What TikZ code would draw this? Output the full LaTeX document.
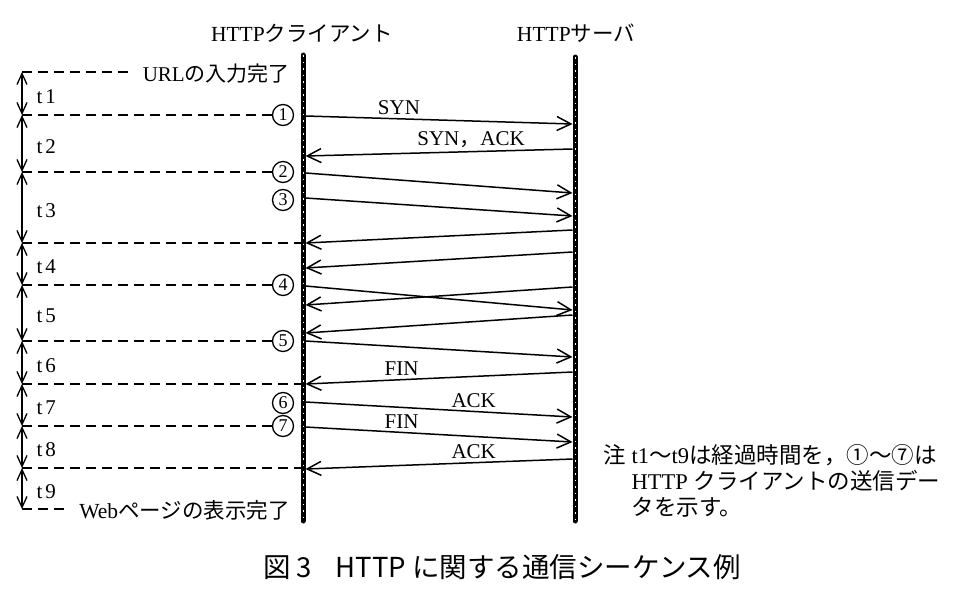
\documentclass[tikz,border=0pt]{standalone}
\usepackage{fontspec}
\setmainfont{Liberation Serif}
\newfontfamily\jp{Noto Sans CJK JP}
\usetikzlibrary{arrows.meta,positioning,calc}

\begin{document}
\begin{tikzpicture}[x=1pt,y=-1pt,
  msg/.style={-{Straight Barb[length=14pt,width=14pt]},line width=1.5pt},
  span/.style={{Straight Barb[length=11pt,width=10pt]}-{Straight Barb[length=11pt,width=10pt]},line width=1.3pt},
  guide/.style={line width=1.3pt,dash pattern=on 10pt off 6pt},
  lifeline/.style={line width=5pt,line cap=round},
  speck/.style={white,line width=0.7pt,dash pattern=on 1.5pt off 5pt},
  head/.style={font=\fontsize{21.5}{22}\selectfont},
  lbl/.style={font=\fontsize{21}{22}\selectfont,inner sep=3pt},
  num/.style={circle,draw,line width=1.3pt,minimum size=21pt,inner sep=0pt,font=\fontsize{18}{18}\selectfont},
  tlab/.style={font=\fontsize{21}{21}\selectfont,anchor=west,inner sep=0pt}]

  \useasboundingbox (0,0) rectangle (973,613);

  % lifelines
  \node[head] (client) at (302,33) {HTTP{\jp クライアント}};
  \node[head] (server) at (576,33) {HTTP{\jp サーバ}};
  \coordinate (cTop) at (303,55);
  \coordinate (cBot) at (303,521);
  \coordinate (sTop) at (575,57);
  \coordinate (sBot) at (575,521);
  \draw[lifeline] (cTop) -- (cBot);
  \draw[lifeline] (sTop) -- (sBot);
  \draw[speck] (cTop) -- (cBot);
  \draw[speck] (sTop) -- (sBot);

  % elapsed times t1..t9
  \foreach \i/\y in {0/72,1/115,2/172,3/243,4/285,5/341,6/384,7/426,8/468,9/509}
    \coordinate (r\i) at (22,\y);
  \foreach \i [count=\j] in {0,...,8}
    \draw[span] (r\i) -- (r\j) node[tlab,midway,xshift=14pt,yshift=-3pt] (t\j) {t\kern3pt\j};

  % client data
  \foreach \k/\y in {1/115,2/172,3/200,4/285,5/341,6/403,7/426}
    \node[num] (n\k) at (283,\y) {\k};
  \node[lbl,anchor=east] (url) at (293,74) {URL{\jp の入力完了}};
  \node[lbl,anchor=east,font=\fontsize{21.5}{22}\selectfont] (web) at (293,510) {Web{\jp ページの表示完了}};

  \draw[guide,shorten >=6pt] (r0) -- (r0 -| url.west);
  \draw[guide] (r1) -- (n1);
  \draw[guide] (r2) -- (n2);
  \draw[guide] (r3) -- (r3 -| cTop);
  \draw[guide] (r4) -- (n4);
  \draw[guide] (r5) -- (n5);
  \draw[guide] (r6) -- (r6 -| cTop);
  \draw[guide] (r7) -- (n7);
  \draw[guide] (r8) -- (r8 -| cTop);
  \draw[guide,shorten >=12pt] (r9) -- (r9 -| web.west);

  % messages
  \foreach \m/\a/\b in {1/116/124,2/156/149,3/173/193,4/198/216,5/243/230,6/268/252,7/286/310,
                        8/305/287,9/333/315,10/341/357,11/384/372,12/402/417,13/427/442,14/469/459} {
    \coordinate (c\m) at (305.5,\a);
    \coordinate (s\m) at (572.5,\b);
  }
  \foreach \m in {3,4,7,10} \draw[msg] (c\m) -- (s\m);
  \foreach \m in {5,6,8,9} \draw[msg] (s\m) -- (c\m);

  \path[every node/.style={lbl,above}]
    (c1) edge[msg] node[pos=.35] {SYN} (s1)
    (s2) edge[msg] node[pos=.38] {SYN{\jp ，}ACK} (c2)
    (s11) edge[msg] node[pos=.64] {FIN} (c11)
    (c12) edge[msg] node[pos=.63] {ACK} (s12)
    (c13) edge[msg] node[pos=.36] {FIN} (s13)
    (s14) edge[msg] node[pos=.37] {ACK} (c14);

  % note and caption
  \node[anchor=north west,inner sep=0pt,font=\fontsize{22.5}{25}\selectfont] (note) at (603,444) {%
    \begin{tabular}{@{}l@{\hspace{6pt}}l@{}}
      {\jp 注} & t1{\jp ～}t9{\jp は経過時間を，①～⑦は}\\
               & HTTP {\jp クライアントの送信デー}\\
               & {\jp タを示す。}
    \end{tabular}};
  \node[font=\jp\fontsize{27.5}{28}\selectfont] (caption) at (502,567)
    {図\hspace{6pt}3\hspace{24pt}HTTP に関する通信シーケンス例};
\end{tikzpicture}
\end{document}
